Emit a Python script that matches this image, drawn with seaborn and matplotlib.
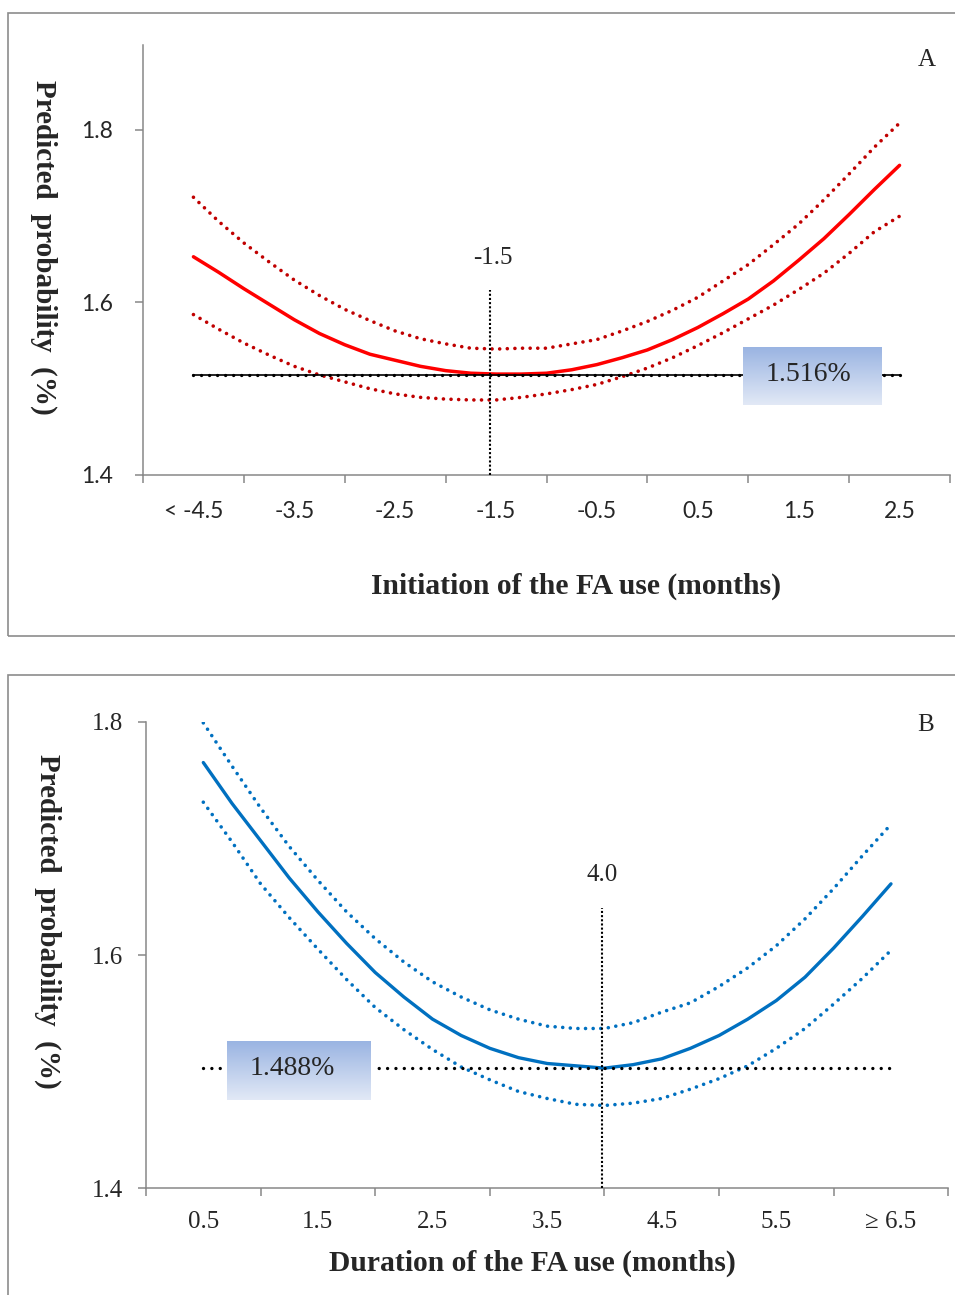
import numpy as np
import pandas as pd
import seaborn as sns
import matplotlib.pyplot as plt
from matplotlib.patches import Rectangle
from matplotlib.colors import LinearSegmentedColormap

init_months = [-4.5, -4.25, -4.0, -3.75, -3.5, -3.25, -3.0, -2.75, -2.5, -2.25, -2.0, -1.75, -1.5, -1.25,
               -1.0, -0.75, -0.5, -0.25, 0.0, 0.25, 0.5, 0.75, 1.0, 1.25, 1.5, 1.75, 2.0, 2.25, 2.5]
init_pred = [1.653, 1.635, 1.616, 1.598, 1.580, 1.564, 1.551, 1.540, 1.533, 1.526, 1.521, 1.518, 1.517, 1.517,
             1.518, 1.522, 1.528, 1.536, 1.545, 1.557, 1.571, 1.587, 1.604, 1.625, 1.649, 1.674, 1.702, 1.731, 1.759]
init_upper = [1.722, 1.694, 1.669, 1.647, 1.626, 1.608, 1.592, 1.579, 1.567, 1.558, 1.552, 1.547, 1.546, 1.547,
              1.547, 1.552, 1.557, 1.567, 1.578, 1.591, 1.606, 1.625, 1.644, 1.667, 1.691, 1.719, 1.749, 1.780, 1.808]
init_lower = [1.586, 1.569, 1.553, 1.539, 1.526, 1.516, 1.508, 1.500, 1.494, 1.490, 1.488, 1.487, 1.487, 1.490,
              1.494, 1.499, 1.505, 1.514, 1.524, 1.536, 1.550, 1.565, 1.581, 1.597, 1.615, 1.634, 1.657, 1.682, 1.700]
init_labels = ["< -4.5", "-3.5", "-2.5", "-1.5", "-0.5", "0.5", "1.5", "2.5"]
init_ref = 1.516
init_opt = -1.56
init_opt_top = 1.614

# Panel B - duration of the FA use (months)
dur_months = [0.5, 0.75, 1.0, 1.25, 1.5, 1.75, 2.0, 2.25, 2.5, 2.75, 3.0, 3.25, 3.5, 3.75,
              4.0, 4.25, 4.5, 4.75, 5.0, 5.25, 5.5, 5.75, 6.0, 6.25, 6.5]
dur_pred = [1.765, 1.730, 1.698, 1.666, 1.637, 1.610, 1.585, 1.564, 1.545, 1.531, 1.520, 1.512, 1.507, 1.505,
            1.503, 1.506, 1.511, 1.520, 1.531, 1.545, 1.561, 1.581, 1.606, 1.633, 1.661]
dur_upper = [1.799, 1.762, 1.726, 1.693, 1.664, 1.637, 1.614, 1.594, 1.577, 1.564, 1.553, 1.545, 1.539,
             1.537, 1.537, 1.542, 1.551, 1.559, 1.573, 1.589, 1.608, 1.631, 1.657, 1.685, 1.712]
dur_lower = [1.731, 1.697, 1.661, 1.632, 1.605, 1.579, 1.555, 1.536, 1.519, 1.504, 1.493, 1.483, 1.477,
             1.472, 1.471, 1.473, 1.477, 1.485, 1.494, 1.505, 1.520, 1.537, 1.558, 1.580, 1.604]
dur_labels = ["0.5", "1.5", "2.5", "3.5", "4.5", "5.5", "\u2265 6.5"]
dur_ref = 1.503
dur_opt = 3.98
dur_opt_top = 1.640

sns.set_style("white")
serif = ["Liberation Serif", "DejaVu Serif"]
plt.rcParams["font.family"] = serif

W, H = 955, 1295
fig = plt.figure(figsize=(W / 100, H / 100), dpi=100)


def fx(x):
    return x / W


def fy(y):
    return 1 - y / H


dot = (0, (0.01, 2.1))
grey = "#878787"

# panel frames
fig.add_artist(Rectangle((fx(8.3), fy(636)), 1.02, (636 - 12.7) / H, transform=fig.transFigure,
                         fill=False, ec="#8C8C8C", lw=1.2))
fig.add_artist(Rectangle((fx(8.3), fy(1310)), 1.02, (1310 - 675) / H, transform=fig.transFigure,
                         fill=False, ec="#8C8C8C", lw=1.2))

box_cmap = LinearSegmentedColormap.from_list("box", ["#9AB4E2", "#E2E9F6"])
grad = np.linspace(0, 1, 200).reshape(-1, 1)


def style_axes(ax, xlim, ylim, labels, tickfont, tsize, xpad, ypad):
    ax.set_xlim(*xlim)
    ax.set_ylim(*ylim)
    for s in ["top", "right"]:
        ax.spines[s].set_visible(False)
    for s in ["left", "bottom"]:
        ax.spines[s].set_color(grey)
        ax.spines[s].set_linewidth(1.1)
    ax.set_xticks(np.arange(xlim[0], xlim[1] + 0.01, 1.0))
    ax.set_xticklabels([])
    ax.set_xticks(np.arange(xlim[0] + 0.5, xlim[1], 1.0), minor=True)
    ax.set_xticklabels(labels, minor=True, fontfamily=tickfont, fontsize=tsize)
    ax.set_yticks([1.4, 1.6, 1.8])
    ax.set_yticklabels(["1.4", "1.6", "1.8"], fontfamily=tickfont, fontsize=tsize)
    ax.tick_params(axis="both", which="major", direction="out", length=5.8, width=1.1, color=grey,
                   bottom=True, left=True)
    ax.tick_params(axis="x", which="minor", length=0, pad=xpad, bottom=True)
    ax.tick_params(axis="y", which="major", pad=ypad)
    ax.set_xlabel("")
    ax.set_ylabel("")


# ---------------- Panel A ----------------
axA = fig.add_axes([fx(143), fy(475), (950 - 143) / W, (475 - 45) / H])
sns.lineplot(x=init_months, y=init_upper, ax=axA, color="#C00000", lw=2.6,
             linestyle=dot, dash_capstyle="round")
sns.lineplot(x=init_months, y=init_lower, ax=axA, color="#C00000", lw=2.6,
             linestyle=dot, dash_capstyle="round")
axA.plot([init_months[0], init_months[-1]], [init_ref, init_ref], color="black", lw=1.2, zorder=3)
axA.plot([init_months[0], init_months[-1]], [init_ref, init_ref], color="black", lw=2.4,
         linestyle=(0, (0.01, 2.4)), dash_capstyle="round", zorder=3)
sns.lineplot(x=init_months, y=init_pred, ax=axA, color="#FF0000", lw=2.5)
axA.plot([init_opt, init_opt], [1.4, init_opt_top], color="black", lw=1.5,
         linestyle=(0, (1, 1)), zorder=4)
axA.imshow(grad, extent=[0.95, 2.32, 1.4815, 1.548], aspect="auto", cmap=box_cmap, zorder=5)
axA.text(1.60, init_ref, "1.516%", ha="center", va="center", fontsize=20, family=serif, zorder=6)
axA.text(init_opt + 0.03, 1.651, "-1.5", ha="center", va="center", fontsize=18, family=serif)
style_axes(axA, (-5.0, 3.0), (1.4, 1.8985), init_labels, "Lato", 16.5, 19, 16)

fig.text(fx(576), fy(586), "Initiation of the FA use (months)", ha="center", va="center",
         fontsize=21.3, fontweight="bold", family=serif)
fig.text(fx(44), fy(247), "Predicted  probability  (%)", ha="center", va="center",
         rotation=270, fontsize=21, fontweight="bold", family=serif)
fig.text(fx(927), fy(60), "A", ha="center", va="center", fontsize=18, family=serif)

# ---------------- Panel B ----------------
axB = fig.add_axes([fx(146), fy(1188.3), (948.3 - 146) / W, (1188.3 - 721.7) / H])
sns.lineplot(x=dur_months, y=dur_upper, ax=axB, color="#0070C0", lw=2.6,
             linestyle=dot, dash_capstyle="round")
sns.lineplot(x=dur_months, y=dur_lower, ax=axB, color="#0070C0", lw=2.6,
             linestyle=dot, dash_capstyle="round")
axB.plot([dur_months[0], dur_months[-1]], [dur_ref, dur_ref], color="black", lw=2.4,
         linestyle=(0, (0.01, 2.5)), dash_capstyle="round", zorder=3)
sns.lineplot(x=dur_months, y=dur_pred, ax=axB, color="#0070C0", lw=2.4)
axB.plot([dur_opt, dur_opt], [1.4, dur_opt_top], color="black", lw=1.5,
         linestyle=(0, (1, 1)), zorder=4)
axB.add_patch(Rectangle((0.68, 1.473), 1.31, 0.056, fc="white", ec="none", zorder=4.5))
axB.imshow(grad, extent=[0.707, 1.955, 1.476, 1.5263], aspect="auto", cmap=box_cmap, zorder=5)
axB.text(1.28, dur_ref, "1.488%", ha="center", va="center", fontsize=20, family=serif, zorder=6)
axB.text(dur_opt, 1.669, "4.0", ha="center", va="center", fontsize=18, family=serif)
style_axes(axB, (0.0, 7.0), (1.4, 1.8), dur_labels, serif, 18, 16, 11)

fig.text(fx(532), fy(1263), "Duration of the FA use (months)", ha="center", va="center",
         fontsize=21.3, fontweight="bold", family=serif)
fig.text(fx(48), fy(921), "Predicted  probability  (%)", ha="center", va="center",
         rotation=270, fontsize=21, fontweight="bold", family=serif)
fig.text(fx(926), fy(725), "B", ha="center", va="center", fontsize=18, family=serif)

fig.savefig("out.png", dpi=100)
